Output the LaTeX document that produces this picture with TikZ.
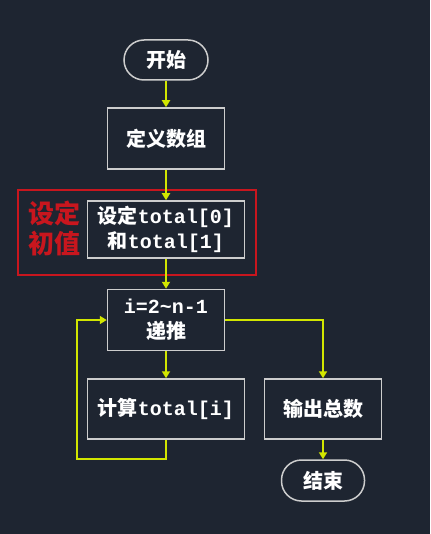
\documentclass[tikz,border=0pt]{standalone}
\usepackage{fontspec}
\setmainfont{Liberation Sans}
\newfontfamily\cjk{Noto Sans CJK SC}
\newfontfamily\mono{Liberation Mono}
\usetikzlibrary{arrows.meta}
\definecolor{bgc}{RGB}{30,37,49}
\definecolor{boxc}{RGB}{205,205,205}
\definecolor{flowc}{RGB}{210,230,0}
\definecolor{redc}{RGB}{200,22,30}
\tikzset{
  stepbox/.style={draw=boxc, line width=1.5pt, text=white, inner sep=0pt, align=center,
    font=\fontsize{20}{25}\selectfont\bfseries},
  term/.style={stepbox, rounded corners=20pt, minimum width=84pt, minimum height=40pt},
  flow/.style={draw=flowc, line width=2pt, -{Triangle[width=8pt,length=7pt]}},
}
\newcommand{\cj}[1]{{\cjk\bfseries #1}}
\newcommand{\mo}[1]{{\mono\bfseries #1}}
\begin{document}
\begin{tikzpicture}[x=1pt,y=-1pt]
\fill[bgc] (0,0) rectangle (430,534);
\useasboundingbox (0,0) rectangle (430,534);
% red group box
\node[draw=redc, line width=2pt, minimum width=238pt, minimum height=85pt, inner sep=0pt] (grp) at (137,232.5) {};
\node[text=redc, align=center, font=\fontsize{26}{30}\selectfont] (lbl) at (54,228) {\cj{设定}\\\cj{初值}};
% nodes
\node[term] (start) at (166,60) {\cj{开始}};
\node[stepbox, minimum width=117pt, minimum height=61pt] (def) at (166,138.5) {\cj{定义数组}};
\node[stepbox, minimum width=157pt, minimum height=57pt] (init) at (166,229.5) {\cj{设定}\mo{total[0]}\\\cj{和}\mo{total[1]}};
\node[stepbox, minimum width=117pt, minimum height=61pt] (rec) at (166,320) {\mo{i=2\textasciitilde n-1}\\\cj{递推}};
\node[stepbox, minimum width=157pt, minimum height=60pt] (calc) at (166,409) {\cj{计算}\mo{total[i]}};
\node[stepbox, minimum width=117pt, minimum height=60pt] (out) at (323,409) {\cj{输出总数}};
\node[term, minimum width=83pt, minimum height=41pt] (end) at (323,480.5) {\cj{结束}};
\coordinate (lp) at (77,459);
% connectors
\draw[flow] (start) -- (def);
\draw[flow] (def) -- (init);
\draw[flow] (init) -- (rec);
\draw[flow] (rec) -- (calc);
\draw[flow] (rec.east) -| (out.north);
\draw[flow] (out) -- (end);
\draw[flow] (calc.south) |- (lp) |- (rec.west);
\end{tikzpicture}
\end{document}
